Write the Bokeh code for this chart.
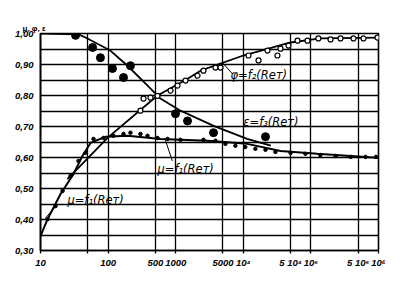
from bokeh.plotting import figure
from bokeh.models import FixedTicker, CustomJSTickFormatter, Title
from bokeh.core.properties import value
from bokeh.embed import file_html
from bokeh.resources import INLINE

# ---- axes ----
x_ticks = [10, 50, 100, 500, 1000, 5000, 1e4, 5e4, 1e5, 5e5, 1e6]
x_tick_labels = ["10", "", "100", "500", "1000", "5000", "10⁴", "5 10⁴", "10⁵", "5 10⁵", "10⁶"]
y_ticks = [0.30, 0.35, 0.40, 0.45, 0.50, 0.55, 0.60, 0.65, 0.70, 0.75, 0.80, 0.85, 0.90, 0.95, 1.00]
y_axis_title = "μ, φ, ε"

# ---- smooth curves ----
mu_curve_re = [10, 12.7, 19.8, 30.8, 41.7, 55, 91.5, 194, 596, 2960, 11400, 35500, 124000, 832000, 1e6]
mu_curve_v = [0.346, 0.401, 0.482, 0.547, 0.605, 0.647, 0.667, 0.670, 0.660, 0.654, 0.644, 0.621, 0.612, 0.600, 0.599]

phi_curve_re = [25, 100, 538, 1400, 2330, 10000, 50000, 138000, 1e6]
phi_curve_v = [0.53, 0.665, 0.80, 0.85, 0.88, 0.929, 0.971, 0.984, 0.987]

eps_curve_re = [10, 36.5, 46.3, 108, 194, 384, 594, 1176, 3640, 11400, 25500]
eps_curve_v = [1.00, 0.997, 0.987, 0.945, 0.896, 0.832, 0.790, 0.751, 0.702, 0.660, 0.638]

# ---- measured points ----
phi_pts_re = [301, 334, 424, 538, 838, 1064, 1397, 2101, 2576, 3879, 4602, 11940, 16800, 22800,
              32000, 35500, 46600, 63400, 89100, 129000, 195000, 274000, 427000, 600000, 966000]
phi_pts_v = [0.751, 0.790, 0.793, 0.799, 0.816, 0.832, 0.848, 0.864, 0.880, 0.890, 0.890, 0.929, 0.913, 0.945,
             0.929, 0.951, 0.961, 0.977, 0.977, 0.984, 0.981, 0.984, 0.984, 0.984, 0.987]

eps_pts_re = [33, 59, 77, 116, 169, 214, 993, 1496, 3626, 21300]
eps_pts_v = [0.994, 0.955, 0.922, 0.887, 0.858, 0.896, 0.741, 0.718, 0.680, 0.667]

mu_pts_re = [12.7, 16.7, 21.2, 27.8, 36.5, 46.3, 60.8, 85.7, 120, 169, 214, 301, 383, 538, 757, 1176,
             2576, 3879, 5440, 7640, 10700, 15100, 21300, 29900, 50000, 83000, 138000, 232000, 389000, 642000, 920000]
mu_pts_v = [0.401, 0.443, 0.492, 0.540, 0.589, 0.615, 0.660, 0.663, 0.670, 0.676, 0.680, 0.676, 0.670, 0.663, 0.660, 0.657,
            0.657, 0.654, 0.644, 0.638, 0.634, 0.628, 0.625, 0.618, 0.615, 0.612, 0.608, 0.605, 0.602, 0.602, 0.602]

# ---- annotations ----
label_texts = ["φ=f₂(Reт)", "ε=f₃(Reт)", "μ=f₁(Reт)", "μ=f₁(Reт)"]
label_re = [6460, 10000, 538, 25]
label_v = [0.867, 0.715, 0.563, 0.463]
leader_re0 = [4900, 706, 11.9]
leader_v0 = [0.906, 0.655, 0.405]
leader_re1 = [6920, 893, 17.9]
leader_v1 = [0.870, 0.589, 0.450]

p = figure(width=401, height=284, x_axis_type="log", x_range=(10, 1e6), y_range=(0.30, 1.00),
           output_backend="svg", toolbar_location=None,
           min_border_left=40, min_border_right=23, min_border_top=33, min_border_bottom=34)

p.background_fill_color = "white"
p.border_fill_color = "white"
p.outline_line_color = "black"
p.outline_line_width = 1.6

p.xaxis.ticker = FixedTicker(ticks=x_ticks, minor_ticks=[])
p.xaxis.major_label_overrides = {t: l for t, l in zip(x_ticks, x_tick_labels)}
p.yaxis.ticker = FixedTicker(ticks=y_ticks, minor_ticks=[])
p.yaxis.formatter = CustomJSTickFormatter(code="""
const k = Math.round(tick * 100);
return (k % 10 === 0) ? (k / 100).toFixed(2).replace('.', ',') : '';
""")
for ax in (p.xaxis, p.yaxis):
    ax.axis_line_color = "black"
    ax.axis_line_width = 1.6
    ax.major_tick_in = 0
    ax.minor_tick_line_color = None
    ax.major_label_text_font = "Liberation Sans"
    ax.major_label_text_font_style = "bold italic"
    ax.major_label_text_font_size = "9.5px"
    ax.major_label_text_color = "black"
p.xaxis.major_tick_out = 3
p.xaxis.major_tick_line_color = "black"
p.xaxis.major_tick_line_width = 1.3
p.yaxis.major_tick_out = 0
p.yaxis.major_label_standoff = 7
p.xaxis.major_label_standoff = 3

p.xgrid.grid_line_color = "black"
p.ygrid.grid_line_color = "black"
p.xgrid.grid_line_width = 1.3
p.ygrid.grid_line_width = 1.3
p.xgrid.grid_line_alpha = 1.0
p.ygrid.grid_line_alpha = 1.0

# curves
p.line(mu_curve_re, mu_curve_v, line_color="black", line_width=2)
p.line(phi_curve_re, phi_curve_v, line_color="black", line_width=1.8)
p.line(eps_curve_re, eps_curve_v, line_color="black", line_width=1.8)

# points
p.scatter(phi_pts_re, phi_pts_v, marker="circle", size=5, fill_color="white", line_color="black", line_width=1.2)
p.scatter(eps_pts_re, eps_pts_v, marker="circle", size=8, fill_color="black", line_color="black")
p.scatter(mu_pts_re, mu_pts_v, marker="circle", size=3.5, fill_color="black", line_color="black")

# leaders and labels
p.segment(leader_re0, leader_v0, leader_re1, leader_v1, line_color="black", line_width=1)
p.text(label_re, label_v, text=label_texts, text_font=value("DejaVu Sans"), text_font_style="italic",
       text_font_size="11.5px", text_baseline="middle", text_align="left", text_color="black")

# caption of the value axis, above its top end (a blank spacer title is stacked above it)
p.add_layout(Title(text=y_axis_title, align="left", offset=-18, standoff=2,
                   text_font="Liberation Sans", text_font_style="bold", text_font_size="8px",
                   text_color="black"), "above")
p.add_layout(Title(text=" ", text_font_size="9px", standoff=0), "above")

open("out.html", "w").write(file_html(p, INLINE))
